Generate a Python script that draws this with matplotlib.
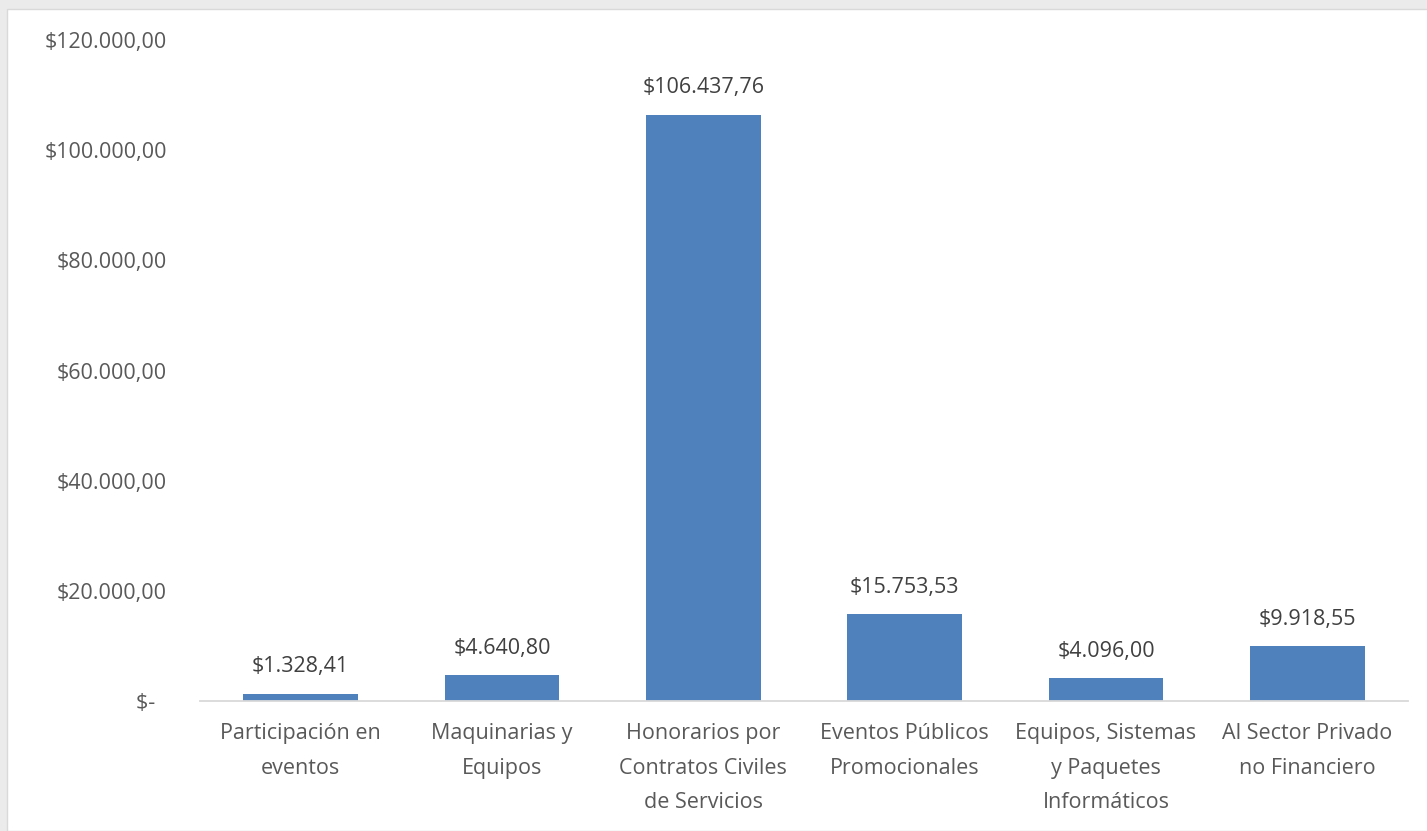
import numpy as np
import matplotlib.pyplot as plt
from matplotlib.patches import Rectangle

categorias = ["Participación en\neventos", "Maquinarias y\nEquipos", "Honorarios por\nContratos Civiles\nde Servicios",
              "Eventos Públicos\nPromocionales", "Equipos, Sistemas\ny Paquetes\nInformáticos", "Al Sector Privado\nno Financiero"]
valores = [1328.41, 4640.80, 106437.76, 15753.53, 4096.00, 9918.55]
etiquetas = ["$1.328,41", "$4.640,80", "$106.437,76", "$15.753,53", "$4.096,00", "$9.918,55"]
yticks = [0, 20000, 40000, 60000, 80000, 100000, 120000]
yticklabels = ["$-  ", "$20.000,00", "$40.000,00", "$60.000,00", "$80.000,00", "$100.000,00", "$120.000,00"]

plt.rcParams['font.family'] = ['Open Sans', 'DejaVu Sans']
gris = '#595959'
fs = 15.5

fig = plt.figure(figsize=(14.27, 8.31), dpi=100)
fig.patch.set_facecolor('#ebebeb')
fig.patches.append(Rectangle((7/1427, 0), 1, 1 - 9/831, transform=fig.transFigure,
                             facecolor='white', edgecolor='#d9d9d9', lw=1, zorder=-1))

ax = fig.add_axes([200/1427, 1 - 701/831, 1208/1427, 661/831])
ax.set_facecolor('none')
x = np.arange(len(valores))
ax.bar(x, valores, width=0.57, color='#4f81bd')
for xi, v, t in zip(x, valores, etiquetas):
    ax.annotate(t, (xi, v), xytext=(0, 12), textcoords='offset points',
                ha='center', va='bottom', fontsize=fs, color='#404040')

ax.set_xlim(-0.5, len(valores) - 0.5)
ax.set_ylim(0, 120000)
ax.set_yticks(yticks)
ax.set_yticklabels(yticklabels)
ax.set_xticks(x)
ax.set_xticklabels(categorias, linespacing=1.85)
ax.tick_params(axis='y', length=0, pad=24, labelsize=fs, labelcolor=gris)
ax.tick_params(axis='x', length=0, pad=16, labelsize=fs, labelcolor=gris)
for s in ['top', 'right', 'left']:
    ax.spines[s].set_visible(False)
ax.spines['bottom'].set_color('#d9d9d9')
ax.spines['bottom'].set_linewidth(1.3)

plt.savefig("out.png", dpi=100)
